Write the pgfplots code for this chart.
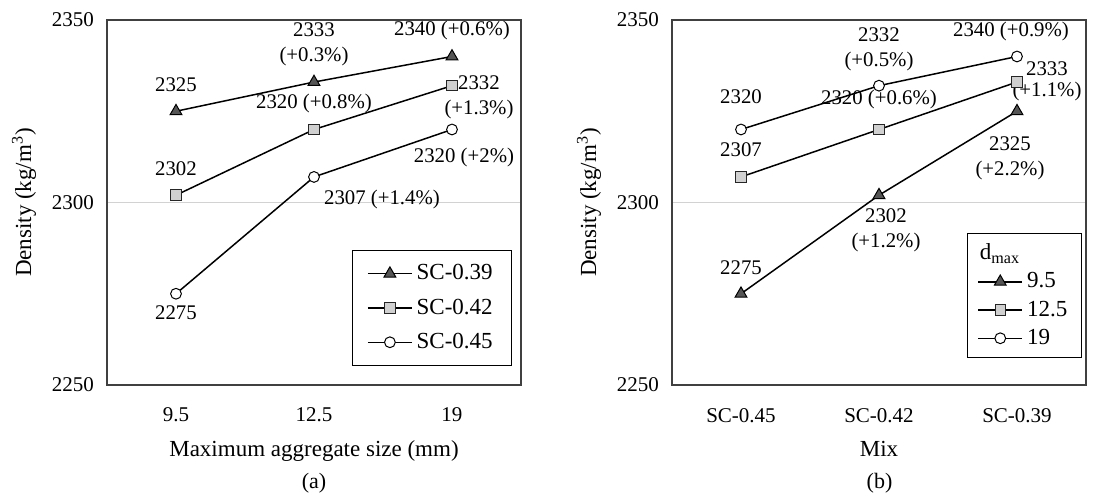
\documentclass[border=0pt]{standalone}
\usepackage{pgfplots}
\pgfplotsset{compat=1.18}
\usepackage{fontspec}
\setmainfont{Liberation Serif}
\definecolor{tri}{HTML}{555555}
\definecolor{sq}{HTML}{D0D0D0}
\definecolor{ax}{HTML}{404040}
\tikzset{lab/.style={font=\fontsize{10.4}{12.4}\selectfont,align=center,inner sep=0pt}}
\begin{document}
\begin{tikzpicture}
\pgfplotsset{
  common/.style={
    width=207pt,height=182.5pt,scale only axis,
    xmin=-0.5,xmax=2.5,ymin=2250,ymax=2350,
    ytick={2250,2300,2350},xtick={0,1,2},
    major tick length=0pt,
    ymajorgrids, grid style={draw=gray!35,line width=0.6pt},
    axis line style={draw=ax,line width=0.8pt},
    tick label style={font=\fontsize{10.5}{12.5}\selectfont},
    label style={font=\fontsize{11.5}{13}\selectfont},
    /pgf/number format/assume math mode=true,
    /pgf/number format/1000 sep={},
    xticklabel style={yshift=-8pt},
    yticklabel style={xshift=-3pt},
    xlabel style={yshift=-2.5pt},
    ylabel style={yshift=1pt},
    clip=false,
    legend cell align=left,
    legend image code/.code={\draw[mark repeat=2,mark phase=2,##1] plot coordinates {(0pt,0pt) (11pt,0pt) (22pt,0pt)};},
  },
  tris/.style={black,line width=0.75pt,mark=triangle*,mark size=3.4pt,mark options={fill=tri,draw=black,line width=0.5pt}},
  sqs/.style={black,line width=0.75pt,mark=square*,mark size=2.6pt,mark options={fill=sq,draw=black!85,line width=0.5pt}},
  circs/.style={black,line width=0.75pt,mark=*,mark size=2.7pt,mark options={fill=white,draw=black,line width=0.5pt}},
}
% ---------------- (a)
\begin{axis}[common, at={(53.5pt,55.5pt)}, anchor=south west,
  xticklabels={9.5,12.5,19},
  xlabel={Maximum aggregate size (mm)},
  ylabel={Density (kg/m\textsuperscript{3})},
  legend style={at={(0.979,0.052)},anchor=south east,draw=black,line width=0.6pt,
    font=\fontsize{11.5}{13}\selectfont,row sep=4pt,inner xsep=7.5pt,inner ysep=5pt},
]
\addplot[tris] coordinates {(0,2325) (1,2333) (2,2340)};
\addlegendentry{SC-0.39}
\addplot[sqs] coordinates {(0,2302) (1,2320) (2,2332)};
\addlegendentry{SC-0.42}
\addplot[circs] coordinates {(0,2275) (1,2307) (2,2320)};
\addlegendentry{SC-0.45}
\node[lab] at (axis cs:0,2325) [yshift=13.5pt] {2325};
\node[lab] at (axis cs:1,2333) [yshift=19pt] {2333\\(+0.3\%)};
\node[lab] at (axis cs:2,2340) [yshift=13pt] {2340 (+0.6\%)};
\node[lab] at (axis cs:0,2302) [yshift=13.5pt] {2302};
\node[lab] at (axis cs:1,2320) [yshift=13pt] {2320 (+0.8\%)};
\node[lab] at (axis cs:2,2332) [xshift=13.5pt,yshift=-5.75pt] {2332\\(+1.3\%)};
\node[lab] at (axis cs:0,2275) [yshift=-9.5pt] {2275};
\node[lab] at (axis cs:1,2307) [xshift=34pt,yshift=-11.5pt] {2307 (+1.4\%)};
\node[lab] at (axis cs:2,2320) [xshift=6pt,yshift=-14pt] {2320 (+2\%)};
\end{axis}
% ---------------- (b)
\begin{axis}[common, at={(336pt,55.5pt)}, anchor=south west,
  xticklabels={SC-0.45,SC-0.42,SC-0.39},
  xlabel={Mix},
  ylabel={Density (kg/m\textsuperscript{3})},
  legend style={at={(0.99,0.074)},anchor=south east,draw=black,line width=0.6pt,
    font=\fontsize{11.5}{13}\selectfont,row sep=1pt,inner xsep=5pt,inner ysep=3pt},
]
\addlegendimage{empty legend}
\addlegendentry{\hspace*{-24pt}d\textsubscript{max}}
\addplot[tris] coordinates {(0,2275) (1,2302) (2,2325)};
\addlegendentry{9.5}
\addplot[sqs] coordinates {(0,2307) (1,2320) (2,2333)};
\addlegendentry{12.5}
\addplot[circs] coordinates {(0,2320) (1,2332) (2,2340)};
\addlegendentry{19}
\node[lab] at (axis cs:0,2320) [yshift=16.5pt] {2320};
\node[lab] at (axis cs:1,2332) [yshift=18pt] {2332\\(+0.5\%)};
\node[lab] at (axis cs:2,2340) [xshift=-3pt,yshift=12.5pt] {2340 (+0.9\%)};
\node[lab] at (axis cs:0,2307) [yshift=13.5pt] {2307};
\node[lab] at (axis cs:1,2320) [yshift=14.75pt] {2320 (+0.6\%)};
\node[lab,font=\fontsize{10.4}{10.5}\selectfont] at (axis cs:2,2333) [xshift=15pt,yshift=0.5pt] {2333\\(+1.1\%)};
\node[lab] at (axis cs:2,2325) [xshift=-3.5pt,yshift=-23.5pt] {2325\\(+2.2\%)};
\node[lab] at (axis cs:0,2275) [yshift=13pt] {2275};
\node[lab] at (axis cs:1,2302) [xshift=3.5pt,yshift=-17.75pt] {2302\\(+1.2\%)};
\end{axis}
\node[font=\fontsize{11}{13}\selectfont] at (157pt,6.5pt) {(a)};
\node[font=\fontsize{11}{13}\selectfont] at (439.75pt,6.5pt) {(b)};
\pgfresetboundingbox
\path[use as bounding box] (0,0) rectangle (549.5pt,248pt);
\end{tikzpicture}
\end{document}
